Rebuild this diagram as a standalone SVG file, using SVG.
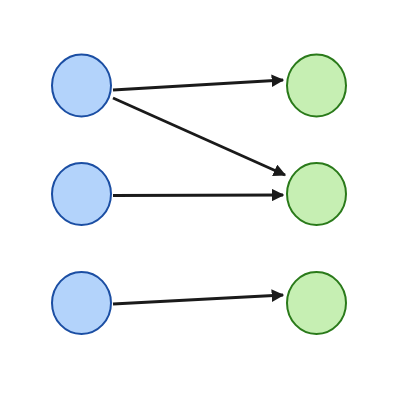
<svg xmlns="http://www.w3.org/2000/svg" width="400" height="400" viewBox="0 0 400 400">
<style>
.src{fill:#b3d3fb;stroke:#1b4ea3;stroke-width:2}
.dst{fill:#c6efb3;stroke:#2a7a1a;stroke-width:2}
.edge{stroke:#1a1a1a;stroke-width:2.8;fill:none;marker-end:url(#ah)}
</style>
<defs>
<marker id="ah" viewBox="0 0 10 10" refX="9" refY="5" markerWidth="4.5" markerHeight="4.5" orient="auto" markerUnits="strokeWidth">
<path d="M0,0 L10,5 L0,10 z" fill="#1a1a1a"/>
</marker>
</defs>
<rect width="400" height="400" fill="#ffffff"/>
<g id="connectors">
<line class="edge" x1="113" y1="90" x2="283" y2="80"/>
<line class="edge" x1="113" y1="98" x2="285" y2="175"/>
<line class="edge" x1="113" y1="195.5" x2="283" y2="195"/>
<line class="edge" x1="113" y1="304" x2="283" y2="295"/>
</g>
<g id="a1"><ellipse class="src" cx="81.5" cy="85.5" rx="29.5" ry="31"/></g>
<g id="a2"><ellipse class="src" cx="81.5" cy="194" rx="29.5" ry="31"/></g>
<g id="a3"><ellipse class="src" cx="81.5" cy="303" rx="29.5" ry="31"/></g>
<g id="b1"><ellipse class="dst" cx="316.5" cy="85.5" rx="29.5" ry="31"/></g>
<g id="b2"><ellipse class="dst" cx="316.5" cy="194" rx="29.5" ry="31"/></g>
<g id="b3"><ellipse class="dst" cx="316.5" cy="303" rx="29.5" ry="31"/></g>
</svg>
